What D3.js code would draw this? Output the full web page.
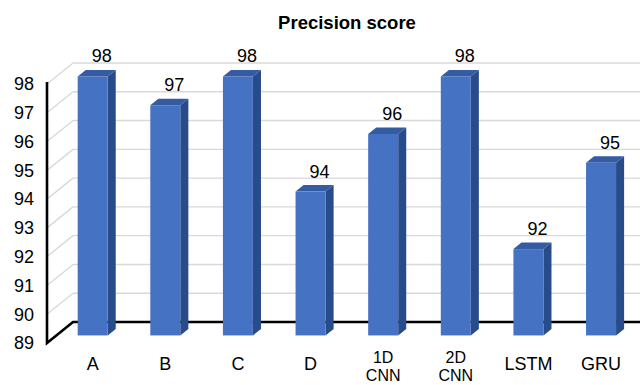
<!DOCTYPE html>
<html>
<head>
<meta charset="utf-8">
<script src="https://cdn.jsdelivr.net/npm/d3@7"></script>
<style>
  html, body { margin: 0; padding: 0; background: #fff; }
  svg { display: block; font-family: "Liberation Sans", Arial, sans-serif; }
</style>
</head>
<body>
<svg id="chart" width="640" height="385"></svg>
<script>
// Model names (multi-line labels split into lines) and their precision scores
const categories = ["A", "B", "C", "D", "1D CNN", "2D CNN", "LSTM", "GRU"];
const categoryLines = [["A"], ["B"], ["C"], ["D"], ["1D", "CNN"], ["2D", "CNN"], ["LSTM"], ["GRU"]];
const precision = [98, 97, 98, 94, 96, 98, 92, 95];
const yTicks = [89, 90, 91, 92, 93, 94, 95, 96, 97, 98];
const chartTitle = "Precision score";

const svg = d3.select("#chart");

// Front plane scales
const x = d3.scaleBand().domain(categories).range([47, 628]).padding(0);
const y = d3.scaleLinear().domain([89, 98]).range([343, 84]);

// Oblique depth projection: z = 0 front plane, z = 1 back wall
const DX = 26, DY = -21;
const px = (X, z) => X + DX * z;
const py = (Y, z) => Y + DY * z;

const barW = 30;
const z0 = 0.36, z1 = 0.67;   // bar front / back depth

// Title
svg.append("text")
  .attr("x", 347).attr("y", 29)
  .attr("text-anchor", "middle")
  .attr("font-size", 18.5).attr("font-weight", "bold")
  .attr("fill", "#000")
  .text(chartTitle);

// Grid lines on the side wall and back wall
const grid = svg.append("g").attr("stroke", "#d9d9d9").attr("stroke-width", 1.4).attr("fill", "none");
yTicks.filter(v => v > 89).forEach(v => {
  grid.append("line")
    .attr("x1", px(47, 0)).attr("y1", py(y(v), 0))
    .attr("x2", px(47, 1)).attr("y2", py(y(v), 1));
  grid.append("line")
    .attr("x1", px(47, 1)).attr("y1", py(y(v), 1))
    .attr("x2", px(628, 1)).attr("y2", py(y(v), 1));
});

// Axis: vertical front line, floor edge and back floor line
svg.append("path")
  .attr("d", d3.line()([
    [47, y(98) - 2],
    [px(47, 0), py(y(89), 0)],
    [px(47, 1), py(y(89), 1)],
    [px(640, 1), py(y(89), 1)]
  ]))
  .attr("fill", "none").attr("stroke", "#000").attr("stroke-width", 2.6)
  .attr("stroke-linejoin", "miter");

// Tick labels
svg.append("g").selectAll("text").data(yTicks).join("text")
  .attr("x", 34).attr("y", d => y(d))
  .attr("dy", "0.35em")
  .attr("text-anchor", "end")
  .attr("font-size", 18).attr("fill", "#000")
  .text(d => d);

// 3D bars
const data = categories.map((c, i) => ({ c, v: precision[i], lines: categoryLines[i] }));
const bars = svg.append("g").selectAll("g").data(data).join("g");

const left = d => x(d.c) + (x.bandwidth() - barW) / 2;
const poly = pts => pts.map(p => p.join(",")).join(" ");

// Side face
bars.append("polygon")
  .attr("fill", "#284b8a")
  .attr("points", d => {
    const r = left(d) + barW, t = y(d.v), b = y(89);
    return poly([
      [px(r, z0), py(t, z0)], [px(r, z1), py(t, z1)],
      [px(r, z1), py(b, z1)], [px(r, z0), py(b, z0)]
    ]);
  });
// Top face
bars.append("polygon")
  .attr("fill", "#355ba3")
  .attr("points", d => {
    const l = left(d), r = l + barW, t = y(d.v);
    return poly([
      [px(l, z0), py(t, z0)], [px(l, z1), py(t, z1)],
      [px(r, z1), py(t, z1)], [px(r, z0), py(t, z0)]
    ]);
  });
// Front face
bars.append("rect")
  .attr("fill", "#4672c4")
  .attr("x", d => px(left(d), z0))
  .attr("y", d => py(y(d.v), z0))
  .attr("width", barW)
  .attr("height", d => y(89) - y(d.v));

// Value labels
bars.append("text")
  .attr("x", d => px(left(d) + barW / 2, z0) + 9)
  .attr("y", d => py(y(d.v), z0) - 14)
  .attr("text-anchor", "middle")
  .attr("font-size", 18).attr("fill", "#000")
  .text(d => d.v);

// Category labels: one text element per line
const catX = d => px(x(d.c) + x.bandwidth() / 2, z0);
const catLines = data.flatMap(d => d.lines.map((t, i) => ({
  t, x: catX(d),
  y: d.lines.length > 1 ? 363 + i * 18 : 370,
  size: d.lines.length > 1 ? 16 : 18
})));
svg.append("g").selectAll("text").data(catLines).join("text")
  .attr("x", d => d.x)
  .attr("y", d => d.y)
  .attr("text-anchor", "middle")
  .attr("font-size", d => d.size)
  .attr("fill", "#000")
  .text(d => d.t);
</script>
</body>
</html>
